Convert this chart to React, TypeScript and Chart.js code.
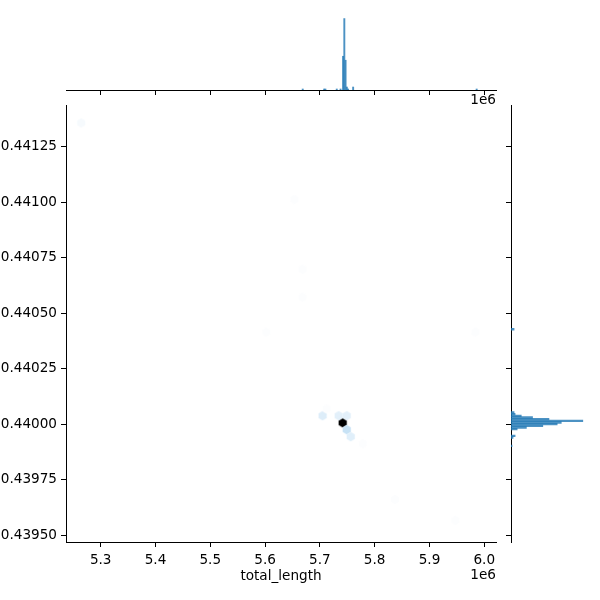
import React, { useEffect, useRef } from 'react';
import { Chart, registerables } from 'chart.js';

Chart.register(...registerables);

// ---- data ----
const xTickValues = [5300000, 5400000, 5500000, 5600000, 5700000, 5800000, 5900000, 6000000];
const yTickValues = [0.4395, 0.43975, 0.44, 0.44025, 0.4405, 0.44075, 0.441, 0.44125];
const xLimits = [5236700, 6021400];
const yLimits = [0.43947, 0.441438];
const xLabel = 'total_length';
const offsetLabel = '1e6';

// hexbin cells (centres) and counts
const hexX = [5741600, 5704900, 5734260, 5748940, 5748940, 5756280, 5712240, 5778300, 5264500, 5653520, 5668200, 5668200, 5602140, 5983820, 5837020, 5947120];
const hexY = [0.4400072, 0.4400386, 0.4400386, 0.4400386, 0.4399758, 0.4399444, 0.44007, 0.439913, 0.4413574, 0.441012, 0.440698, 0.4405724, 0.4404154, 0.4404154, 0.4396618, 0.4395676];
const hexCount = [140, 11, 9, 9, 18, 10, 1, 1, 3, 1, 1, 1, 1, 1, 1, 1];

// top marginal histogram (x bins)
const topBinX = [5744600, 5742300, 5746900, 5749200, 5751500, 5760700, 5730800, 5737700, 5710100, 5707800, 5668700, 5986100];
const topBinCount = [72, 34, 30, 3, 1, 3, 1, 1, 1, 1, 1, 1];

// right marginal histogram (y bins)
const rightBinY = [0.4400532, 0.4400457, 0.4400382, 0.4400307, 0.4400232, 0.4400157, 0.4400082, 0.4400007, 0.4399932, 0.4399857, 0.4399782, 0.4399482, 0.4399407, 0.4404282, 0.4399032];
const rightBinCount = [3, 4, 10, 21, 37, 70, 49, 45, 31, 15, 6, 4, 2, 3, 1];

const FONT = { family: 'DejaVu Sans', size: 13.6 };
const BAR_COLOR = 'rgba(31,119,180,0.8)';

function hexColor(c: number, max: number) {
  const l = 100 * (1 - c / max);
  return `hsl(205.4, 70.6%, ${l.toFixed(2)}%)`;
}

function hexImage(color: string) {
  const cv = document.createElement('canvas');
  cv.width = 10;
  cv.height = 11;
  const ctx = cv.getContext('2d')!;
  const w = 8.2, h = 9.3, cx = 5, cy = 5.5;
  ctx.beginPath();
  ctx.moveTo(cx, cy - h / 2);
  ctx.lineTo(cx + w / 2, cy - h / 4);
  ctx.lineTo(cx + w / 2, cy + h / 4);
  ctx.lineTo(cx, cy + h / 2);
  ctx.lineTo(cx - w / 2, cy + h / 4);
  ctx.lineTo(cx - w / 2, cy - h / 4);
  ctx.closePath();
  ctx.fillStyle = color;
  ctx.fill();
  return cv;
}

function offsetTextPlugin(id: string, y: number) {
  return {
    id,
    afterDraw(chart: any) {
      const ctx = chart.ctx;
      ctx.save();
      ctx.font = `${FONT.size}px "${FONT.family}"`;
      ctx.fillStyle = '#000';
      ctx.textAlign = 'right';
      ctx.textBaseline = 'middle';
      ctx.fillText(offsetLabel, chart.chartArea.right, y);
      ctx.restore();
    },
  };
}

const tickGrid = { display: true, drawOnChartArea: false, drawTicks: true, tickLength: 5, color: '#000', lineWidth: 1 };
const border = { display: true, color: '#000', width: 1 };

export default function App() {
  const mainRef = useRef<HTMLCanvasElement>(null);
  const topRef = useRef<HTMLCanvasElement>(null);
  const rightRef = useRef<HTMLCanvasElement>(null);

  useEffect(() => {
    const maxHex = Math.max(...hexCount);
    const images = hexCount.map((c) => hexImage(hexColor(c, maxHex)));

    const main = new Chart(mainRef.current!, {
      type: 'scatter',
      data: {
        datasets: [
          {
            data: hexX.map((x, i) => ({ x, y: hexY[i] })),
            pointStyle: images as any,
            pointRadius: 5,
            pointHoverRadius: 5,
          },
        ],
      },
      options: {
        responsive: false,
        animation: false,
        events: [],
        layout: { padding: { top: 15, right: 14, left: 0, bottom: 0 } },
        plugins: { legend: { display: false }, tooltip: { enabled: false } },
        scales: {
          x: {
            type: 'linear',
            min: xLimits[0],
            max: xLimits[1],
            afterBuildTicks: (s: any) => {
              s.ticks = xTickValues.map((v) => ({ value: v }));
            },
            afterFit: (s: any) => {
              s.height = 58;
            },
            ticks: {
              callback: (v: any) => (Number(v) / 1e6).toFixed(1),
              font: FONT,
              color: '#000',
              padding: 5,
              maxRotation: 0,
              autoSkip: false,
            },
            grid: tickGrid,
            border,
            title: { display: true, text: xLabel, font: FONT, color: '#000', padding: { top: 0, bottom: 15 } },
          },
          y: {
            type: 'linear',
            min: yLimits[0],
            max: yLimits[1],
            afterBuildTicks: (s: any) => {
              s.ticks = yTickValues.map((v) => ({ value: v }));
            },
            afterFit: (s: any) => {
              s.width = 66;
            },
            ticks: {
              callback: (v: any) => Number(v).toFixed(5),
              font: FONT,
              color: '#000',
              padding: 4,
              autoSkip: false,
            },
            grid: tickGrid,
            border,
          },
        },
      },
      plugins: [offsetTextPlugin('offMain', 575 - 90)],
    });

    const topMax = Math.max(...topBinCount) * 1.05;
    const top = new Chart(topRef.current!, {
      type: 'bar',
      data: {
        datasets: [
          {
            data: topBinX.map((x, i) => ({ x, y: topBinCount[i] })),
            backgroundColor: BAR_COLOR,
            borderWidth: 0,
            barPercentage: 1,
            categoryPercentage: 1,
          },
        ],
      },
      options: {
        responsive: false,
        animation: false,
        events: [],
        layout: { padding: { top: 15, right: 14, left: 66, bottom: 0 } },
        plugins: { legend: { display: false }, tooltip: { enabled: false } },
        scales: {
          x: {
            type: 'linear',
            offset: false,
            min: xLimits[0],
            max: xLimits[1],
            afterBuildTicks: (s: any) => {
              s.ticks = xTickValues.map((v) => ({ value: v }));
            },
            afterFit: (s: any) => {
              s.height = 20;
            },
            ticks: { display: false },
            grid: { ...tickGrid, offset: false },
            border,
          },
          y: { type: 'linear', min: 0, max: topMax, display: false },
        },
      },
      plugins: [offsetTextPlugin('offTop', 100)],
    });

    const rightMax = Math.max(...rightBinCount) * 1.05;
    const right = new Chart(rightRef.current!, {
      type: 'bar',
      data: {
        datasets: [
          {
            data: rightBinY.map((y, i) => ({ x: rightBinCount[i], y })),
            backgroundColor: BAR_COLOR,
            borderWidth: 0,
            barPercentage: 1,
            categoryPercentage: 1,
          },
        ],
      },
      options: {
        indexAxis: 'y',
        responsive: false,
        animation: false,
        events: [],
        layout: { padding: { top: 15, right: 13.6, left: 0, bottom: 58 } },
        plugins: { legend: { display: false }, tooltip: { enabled: false } },
        scales: {
          y: {
            type: 'linear',
            position: 'left',
            offset: false,
            min: yLimits[0],
            max: yLimits[1],
            afterBuildTicks: (s: any) => {
              s.ticks = yTickValues.map((v) => ({ value: v }));
            },
            afterFit: (s: any) => {
              s.width = 15;
            },
            ticks: { display: false },
            grid: { ...tickGrid, offset: false },
            border,
          },
          x: { type: 'linear', min: 0, max: rightMax, display: false },
        },
      },
    });

    return () => {
      main.destroy();
      top.destroy();
      right.destroy();
    };
  }, []);

  return (
    <div style={{ position: 'absolute', left: 0, top: 0, width: 600, height: 600, background: '#fff' }}>
      <canvas ref={topRef} width={510} height={110} style={{ position: 'absolute', left: 0, top: 0 }} />
      <canvas ref={mainRef} width={510} height={510} style={{ position: 'absolute', left: 0, top: 90 }} />
      <canvas ref={rightRef} width={104} height={510} style={{ position: 'absolute', left: 496, top: 90 }} />
    </div>
  );
}
